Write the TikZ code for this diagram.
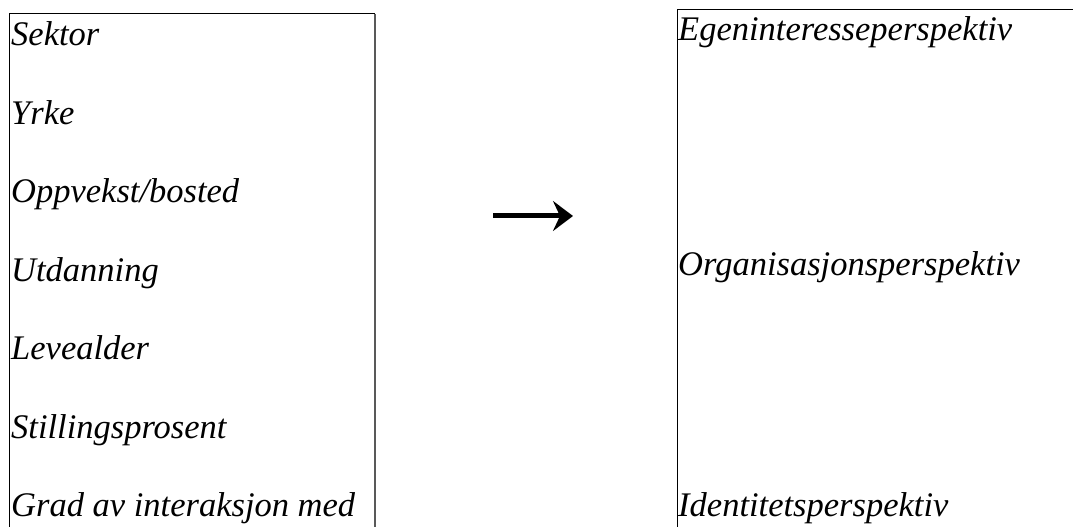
\documentclass[tikz,border=0pt]{standalone}
\usepackage{fontspec}
\setmainfont{Liberation Serif}
\usetikzlibrary{arrows.meta,positioning}

\begin{document}
\begin{tikzpicture}[x=1pt,y=1pt,
  item/.style={anchor=base west, inner sep=0pt, font=\itshape\fontsize{34.5}{41}\selectfont},
  frame/.style={line width=1pt},
  edge/.style={line width=2pt, gray!70!black},
  pil/.style={line width=5pt, -{Stealth[length=20pt,width=30pt,inset=7pt]}}]
  \useasboundingbox (0,0) rectangle (1073,527);
  \draw[frame] (9,-10) -- (9,513) -- (375,513);
  \draw[edge] (375,513) -- (375,-10);
  \draw[frame] (677,-10) -- (677,517) -- (1080,517);
  \node[item] (sektor) at (11,481) {Sektor};
  \node[item] (yrke) at (11,402.5) {Yrke};
  \node[item] (oppvekst) at (11,324) {Oppvekst/bosted};
  \node[item] (utdanning) at (11,245.5) {Utdanning};
  \node[item] (levealder) at (11,167) {Levealder};
  \node[item] (stilling) at (11,88.5) {Stillingsprosent};
  \node[item] (grad) at (11,10) {Grad av interaksjon med};
  \node[item] (egen) at (678,486) {Egeninteresseperspektiv};
  \node[item] (org) at (678,251) {Organisasjonsperspektiv};
  \node[item] (ident) at (678,10) {Identitetsperspektiv};
  \coordinate (pilstart) at (493,311);
  \coordinate (pilslutt) at (573,311);
  \draw[pil] (pilstart) -- (pilslutt);
\end{tikzpicture}
\end{document}
